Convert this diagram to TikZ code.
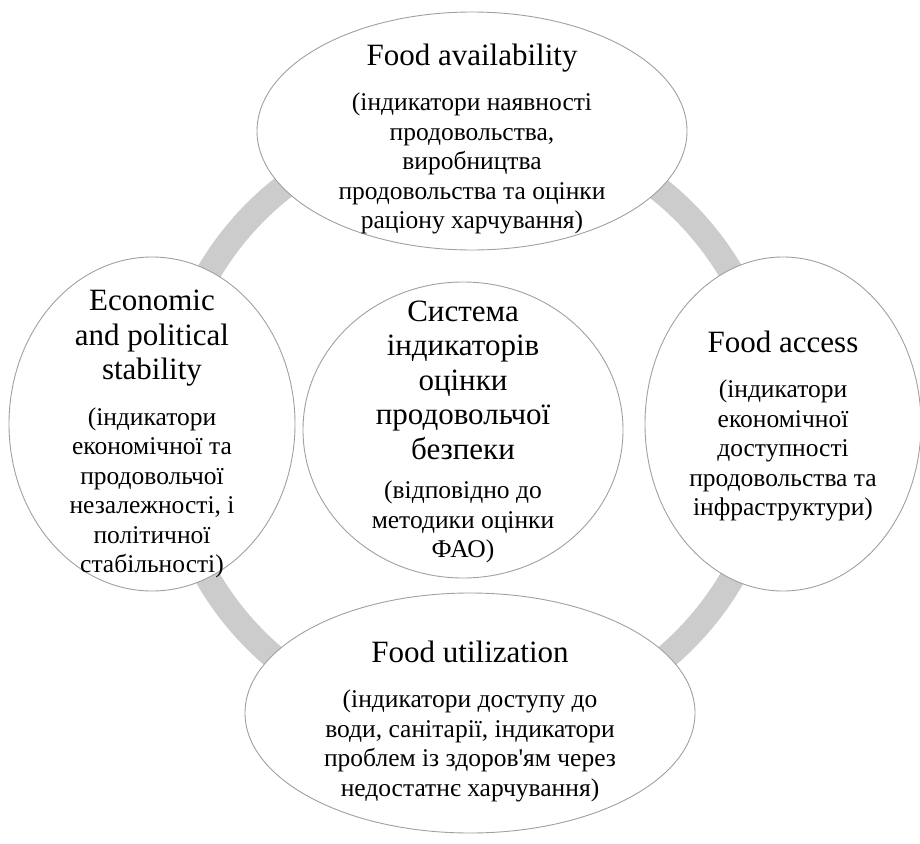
\documentclass[tikz,border=0pt]{standalone}
\usepackage{fontspec}
\setmainfont{Liberation Serif}
% same face without TeX ligature mapping, for a straight apostrophe
\newfontfamily\plainserif{Liberation Serif}
\usetikzlibrary{shapes.geometric}
\definecolor{ringgray}{HTML}{CCCCCC}
\definecolor{edgegray}{HTML}{A0A0A0}
\newcommand{\bd}{\fontsize{25.5}{29.5}\selectfont}
\newcommand{\hd}[1]{{\fontsize{31}{35}\selectfont #1}}
\newcommand{\apos}{{\plainserif '}}
\tikzset{
  bubble/.style={ellipse, draw=edgegray, line width=0.9pt, fill=white,
    inner sep=0pt},
  label text/.style={align=center, text=black, font=\bd, inner sep=0pt},
}
\begin{document}
\begin{tikzpicture}[x=1pt,y=-1pt]
  \useasboundingbox (0,0) rectangle (920,843);
  % cycle ring behind the bubbles
  \coordinate (hub) at (470,426);
  \draw[ringgray, line width=25pt] (hub) circle (303);

  % bubble outlines
  \node[bubble, minimum width=430pt, minimum height=238pt] (avail) at (472,131) {};
  \node[bubble, minimum width=286pt, minimum height=334pt] (stab) at (152,424) {};
  \node[bubble, minimum width=276pt, minimum height=334pt] (access) at (783,424) {};
  \node[bubble, minimum width=450pt, minimum height=240pt] (util) at (470,713) {};
  \node[bubble, minimum width=320pt, minimum height=296pt] (core) at (463,430) {};

  % texts
  \node[label text] (availtxt) at ([yshift=-8pt]avail.center)
    {\hd{Food availability}\\[16pt]
     (індикатори наявності\\ продовольства,\\ виробництва\\
     продовольства та оцінки\\ раціону харчування)};

  \node[label text] (stabtxt) at ([yshift=-10pt]stab.center)
    {\hd{Economic}\\[5pt] \hd{and political}\\[5pt] \hd{stability}\\[16pt]
     (індикатори\\ економічної та\\ продовольчої\\
     незалежності, і\\ політичної\\ стабільності)};

  \node[label text] (accesstxt) at ([yshift=-2pt]access.center)
    {\hd{Food access}\\[16pt]
     (індикатори\\ економічної\\ доступності\\
     продовольства та\\ інфраструктури)};

  \node[label text] (utiltxt) at ([yshift=-8pt]util.center)
    {\hd{Food utilization}\\[16pt]
     (індикатори доступу до\\ води, санітарії, індикатори\\
     проблем із здоров\apos ям через\\ недостатнє харчування)};

  \node[label text] (coretxt) at ([yshift=-2pt]core.center)
    {\hd{Система}\\[5pt] \hd{індикаторів}\\[5pt] \hd{оцінки}\\[5pt]
     \hd{продовольчої}\\[5pt] \hd{безпеки}\\[10pt]
     (відповідно до\\ методики оцінки\\ ФАО)};
\end{tikzpicture}
\end{document}
